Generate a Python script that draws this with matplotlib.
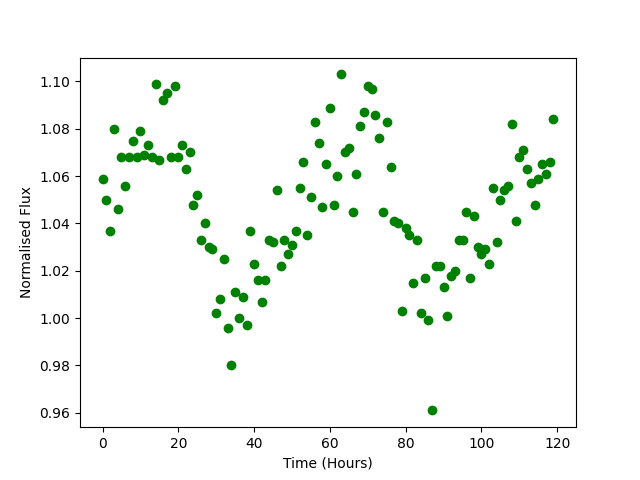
import matplotlib
matplotlib.use('Agg')
import matplotlib.pyplot as plt
import numpy as np

# flux values, one per hour
hours = np.arange(120)
flux = [
    1.059, 1.050, 1.037, 1.080, 1.046, 1.068, 1.056, 1.068, 1.075, 1.068,
    1.079, 1.069, 1.073, 1.068, 1.099, 1.067, 1.092, 1.095, 1.068, 1.098,
    1.068, 1.073, 1.063, 1.070, 1.048, 1.052, 1.033, 1.040, 1.030, 1.029,
    1.002, 1.008, 1.025, 0.996, 0.980, 1.011, 1.000, 1.009, 0.997, 1.037,
    1.023, 1.016, 1.007, 1.016, 1.033, 1.032, 1.054, 1.022, 1.033, 1.027,
    1.031, 1.037, 1.055, 1.066, 1.035, 1.051, 1.083, 1.074, 1.047, 1.065,
    1.089, 1.048, 1.060, 1.103, 1.070, 1.072, 1.045, 1.061, 1.081, 1.087,
    1.098, 1.097, 1.086, 1.076, 1.045, 1.083, 1.064, 1.041, 1.040, 1.003,
    1.038, 1.035, 1.015, 1.033, 1.002, 1.017, 0.999, 0.961, 1.022, 1.022,
    1.013, 1.001, 1.018, 1.020, 1.033, 1.033, 1.045, 1.017, 1.043, 1.030,
    1.027, 1.029, 1.023, 1.055, 1.032, 1.050, 1.054, 1.056, 1.082, 1.041,
    1.068, 1.071, 1.063, 1.057, 1.048, 1.059, 1.065, 1.061, 1.066, 1.084,
]

fig, ax = plt.subplots(figsize=(6.4, 4.8), dpi=100)
ax.plot(hours, flux, 'o', color='green')
ax.set_xlabel('Time (Hours)')
ax.set_ylabel('Normalised Flux')

fig.savefig('out.png')
